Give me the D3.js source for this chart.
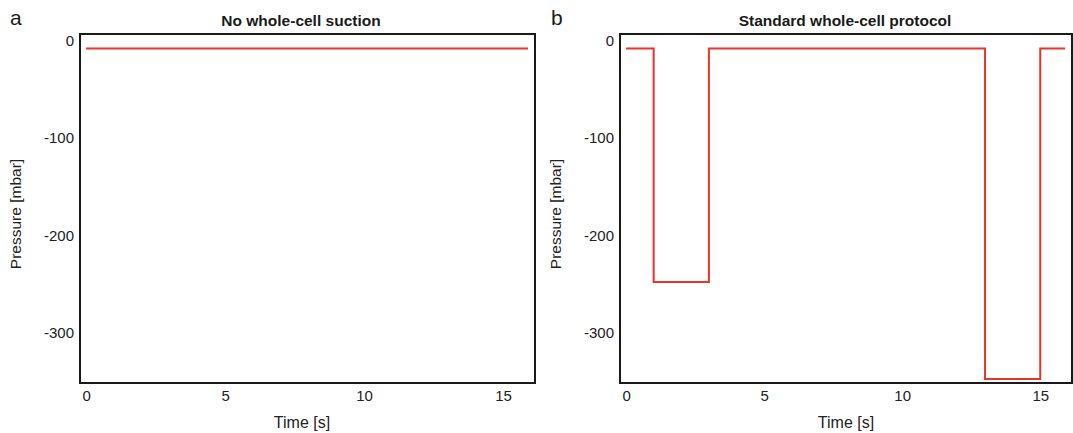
<!DOCTYPE html>
<html>
<head>
<meta charset="utf-8">
<script src="https://cdn.jsdelivr.net/npm/d3@7/dist/d3.min.js"></script>
<style>
  body { margin: 0; background: #fff; }
  svg { display: block; font-family: "Liberation Sans", Arial, sans-serif; }
</style>
</head>
<body>
<svg id="chart" width="1073" height="433"></svg>
<script>
// Pressure protocols (time in s, pressure in mbar), step-wise
const timesA = [0, 15.9];
const pressureA = [-8, -8];

const timesB = [0, 1, 3, 13, 15, 15.9];
const pressureB = [-8, -248, -8, -348, -8, -8];

const xTicks = [0, 5, 10, 15];
const yTicks = [0, -100, -200, -300];

const panels = [
  { letter: "a", title: "No whole-cell suction", times: timesA, values: pressureA,
    left: 80, right: 535, letterX: 10, titleX: 301, ylabX: 15 },
  { letter: "b", title: "Standard whole-cell protocol", times: timesB, values: pressureB,
    left: 620, right: 1072, letterX: 551, titleX: 845, ylabX: 555 }
];

const plotTop = 34, plotBottom = 383;
const svg = d3.select("#chart");
const plain = d => String(d);   // hyphen-minus, as in the printed figure

panels.forEach(p => {
  const x = d3.scaleLinear().domain([-0.22, 16.15]).range([p.left, p.right]);
  const y = d3.scaleLinear().domain([7, -352]).range([plotTop, plotBottom]);
  const g = svg.append("g");

  // x tick labels
  const xa = g.append("g")
    .attr("transform", `translate(0,${plotBottom})`)
    .call(d3.axisBottom(x).tickValues(xTicks).tickSize(0).tickPadding(7).tickFormat(plain));
  xa.select(".domain").remove();
  xa.selectAll("text").attr("font-size", 15).attr("fill", "#222");
  xa.attr("font-family", null).attr("font-size", null);

  // y tick labels
  const ya = g.append("g")
    .attr("transform", `translate(${p.left},0)`)
    .call(d3.axisLeft(y).tickValues(yTicks).tickSize(0).tickPadding(6).tickFormat(plain));
  ya.select(".domain").remove();
  ya.selectAll("text").attr("font-size", 15).attr("fill", "#222");
  ya.attr("font-family", null).attr("font-size", null);

  // trace
  const line = d3.line()
    .x((d, i) => x(p.times[i]))
    .y(d => y(d))
    .curve(d3.curveStepAfter);
  g.append("path")
    .attr("d", line(p.values))
    .attr("fill", "none")
    .attr("stroke", "#e8352b")
    .attr("stroke-width", 2);

  // frame
  g.append("rect")
    .attr("x", p.left).attr("y", plotTop)
    .attr("width", p.right - p.left).attr("height", plotBottom - plotTop)
    .attr("fill", "none").attr("stroke", "#1a1a1a").attr("stroke-width", 2);

  // titles and labels
  g.append("text").attr("x", p.titleX).attr("y", 26)
    .attr("text-anchor", "middle").attr("font-weight", "bold").attr("font-size", 15.5)
    .attr("fill", "#1a1a1a").text(p.title);
  g.append("text").attr("x", p.letterX).attr("y", 25)
    .attr("font-size", 21).attr("fill", "#1a1a1a").text(p.letter);
  g.append("text").attr("x", p.titleX + 1).attr("y", 428)
    .attr("text-anchor", "middle").attr("font-size", 16).attr("fill", "#222").text("Time [s]");
  g.append("text")
    .attr("transform", `translate(${p.ylabX + 6},214) rotate(-90)`)
    .attr("text-anchor", "middle").attr("font-size", 15.5).attr("fill", "#222").text("Pressure [mbar]");
});
</script>
</body>
</html>
